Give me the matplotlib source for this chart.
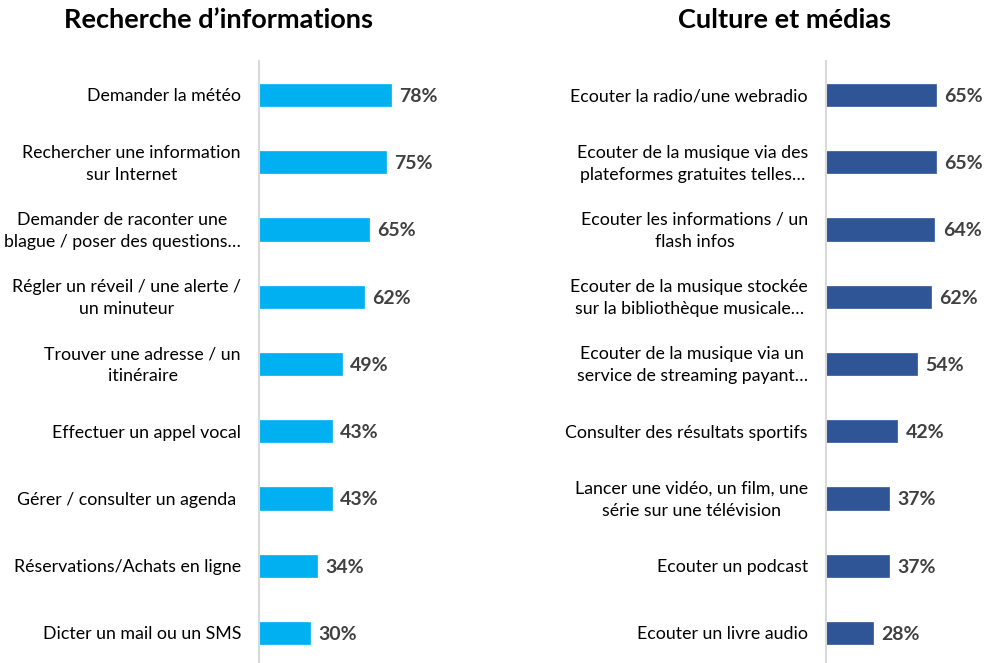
import matplotlib
matplotlib.use("Agg")
import matplotlib.pyplot as plt
from matplotlib.transforms import offset_copy

plt.rcParams['font.family'] = ['Lato', 'DejaVu Sans']

left_title = "Recherche d’informations"
left_labels = [
    "Demander la météo",
    "Rechercher une information\nsur Internet",
    "Demander de raconter une\nblague / poser des questions…",
    "Régler un réveil / une alerte /\nun minuteur",
    "Trouver une adresse / un\nitinéraire",
    "Effectuer un appel vocal",
    "Gérer / consulter un agenda ",
    "Réservations/Achats en ligne",
    "Dicter un mail ou un SMS",
]
left_values = [78, 75, 65, 62, 49, 43, 43, 34, 30]

right_title = "Culture et médias"
right_labels = [
    "Ecouter la radio/une webradio",
    "Ecouter de la musique via des\nplateformes gratuites telles…",
    "Ecouter les informations / un\nflash infos",
    "Ecouter de la musique stockée\nsur la bibliothèque musicale…",
    "Ecouter de la musique via un\nservice de streaming payant…",
    "Consulter des résultats sportifs",
    "Lancer une vidéo, un film, une\nsérie sur une télévision",
    "Ecouter un podcast",
    "Ecouter un livre audio",
]
right_values = [65, 65, 64, 62, 54, 42, 37, 37, 28]

W, H = 984, 663
fig = plt.figure(figsize=(W / 100, H / 100), dpi=100)

px_per_unit = 132 / 78.0
row_px = 67.25
top_px = 95 - row_px / 2
bottom_px = 663
ymax = -0.5 + (bottom_px - top_px) / row_px


def panel(x0_px, width_px, labels, values, color, title, title_cx):
    ax = fig.add_axes([x0_px / W, 0, width_px / W, (bottom_px - top_px) / H])
    ax.set_xlim(0, width_px / px_per_unit)
    ax.set_ylim(ymax, -0.5)
    ys = list(range(len(values)))
    ax.barh(ys, values, height=0.33, color=color, edgecolor=color, linewidth=0.5)
    for s in ['top', 'right', 'bottom']:
        ax.spines[s].set_visible(False)
    ax.spines['left'].set_color('#D9D9D9')
    ax.spines['left'].set_linewidth(1.5)
    ax.set_xticks([])
    ax.set_yticks([])
    trans_lab = offset_copy(ax.transData, fig=fig, x=-13, y=-1, units='points')
    for y, lab in zip(ys, labels):
        ax.text(0, y, lab, transform=trans_lab, ha='right', va='center',
                multialignment='center', fontsize=12.8, color='#000000',
                linespacing=1.45)
    trans_val = offset_copy(ax.transData, fig=fig, x=6, y=-1, units='points')
    for y, v in zip(ys, values):
        ax.text(v, y, f"{v}%", transform=trans_val, ha='left', va='center',
                fontsize=14, fontweight='bold', color='#404040')
    fig.text(title_cx / W, 1 - 20 / H, title, ha='center', va='center',
             fontsize=19.5, fontweight='bold', color='#000000')
    return ax


panel(259, 200, left_labels, left_values, '#00B0F0', left_title, 218)
panel(826, 155, right_labels, right_values, '#2F5597', right_title, 784)

fig.savefig("out.png", dpi=100)
